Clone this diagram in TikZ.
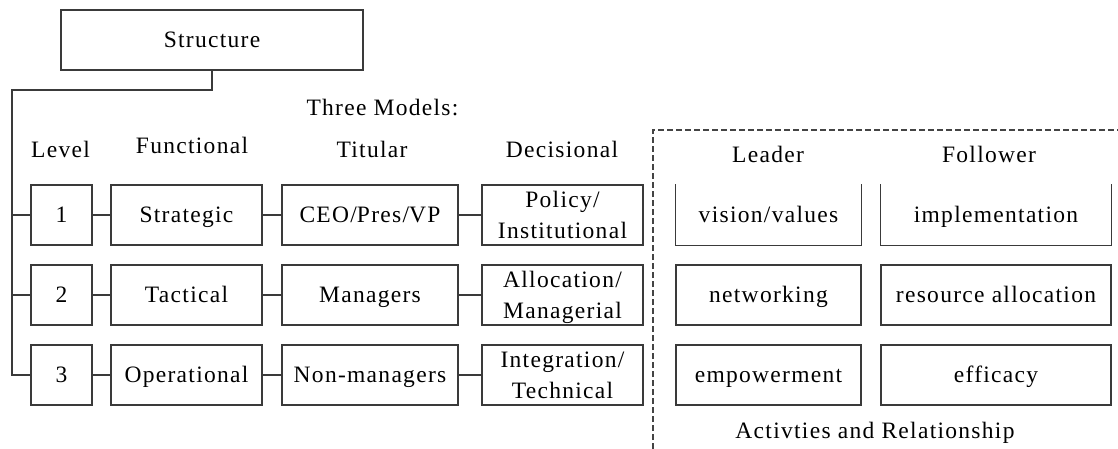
\documentclass[tikz,border=0pt]{standalone}
\usepackage{fontspec}
\setmainfont{Liberation Serif}[LetterSpace=5.5]
\definecolor{ink}{HTML}{3A3A3A}
\definecolor{dashink}{HTML}{444444}
\begin{document}
\begin{tikzpicture}[x=1pt,y=-1pt,
  every node/.style={font=\fontsize{23.5}{31}\selectfont, text=black},
  box/.style={draw=ink, line width=1.1pt, inner sep=0pt, minimum height=60pt,
              text depth=0pt, align=center},
  one/.style={text height=15.6pt},
  openbox/.style={box, draw=none},
  wire/.style={draw=ink, line width=1.1pt},
  head/.style={anchor=base, inner sep=0pt},
  sep/.style={draw=dashink, line width=1.1pt, dash pattern=on 6pt off 3pt}]
\useasboundingbox (0,0) rectangle (1118,449);

% top box and spine
\node[box, one, minimum width=302pt] (S) at (212,40) {Structure};
\coordinate (st) at (12,90);
\coordinate (sb) at (12,375);

% column headings
\node[head] (tm) at (382.5,116) {Three Models:};
\node[head] (hl) at (60.5,158) {Level};
\node[head] (hf) at (192,154) {Functional};
\node[head] (ht) at (372,158) {Titular};
\node[head] (hd) at (562,158) {Decisional};
\node[head] (hle) at (768,163) {Leader};
\node[head] (hfo) at (989,163) {Follower};
\node[head] (act) at (875,438) {Activties and Relationship};

% level rows
\foreach \r/\y/\f/\t/\d in {1/215/Strategic/CEO\slash Pres\slash VP/{Policy/\\Institutional},
                            2/295/Tactical/Managers/{Allocation/\\Managerial},
                            3/375/Operational/Non-managers/{Integration/\\Technical}} {
  \node[box, one, minimum width=61pt]  (lv\r) at (61.5,\y) {\r};
  \node[box, one, minimum width=151pt] (fn\r) at (186.5,\y) {\f};
  \node[box, one, minimum width=176pt] (ti\r) at (370,\y) {\t};
  \node[box, minimum width=161pt]      (de\r) at (562.5,\y) {\d};
  \draw[wire] (lv\r) -- (fn\r);
  \draw[wire] (fn\r) -- (ti\r);
  \draw[wire] (ti\r) -- (de\r);
}

\draw[wire] (S.south) |- (st) -- (sb) -- (lv3.west);
\draw[wire] (lv1.west -| st) -- (lv1.west);
\draw[wire] (lv2.west -| st) -- (lv2.west);

% leader / follower activities
\node[openbox, one, minimum width=185pt] (le1) at (768.5,215) {vision/values};
\node[openbox, one, minimum width=230pt] (fo1) at (996,215) {implementation};
\draw[wire] (le1.north west) -- (le1.south west) -- (le1.south east) -- (le1.north east);
\draw[wire] (fo1.north west) -- (fo1.south west) -- (fo1.south east) -- (fo1.north east);
\node[box, one, minimum width=185pt] (le2) at (768.5,295) {networking};
\node[box, one, minimum width=230pt] (fo2) at (996,295) {resource allocation};
\node[box, one, minimum width=185pt] (le3) at (768.5,375) {empowerment};
\node[box, one, minimum width=230pt] (fo3) at (996,375) {efficacy};

% dashed frame
\coordinate (d0) at (653,449);
\coordinate (d1) at (653,130);
\coordinate (d2) at (1118,130);
\draw[sep] (d0) -- (d1) -- (d2);
\end{tikzpicture}
\end{document}
